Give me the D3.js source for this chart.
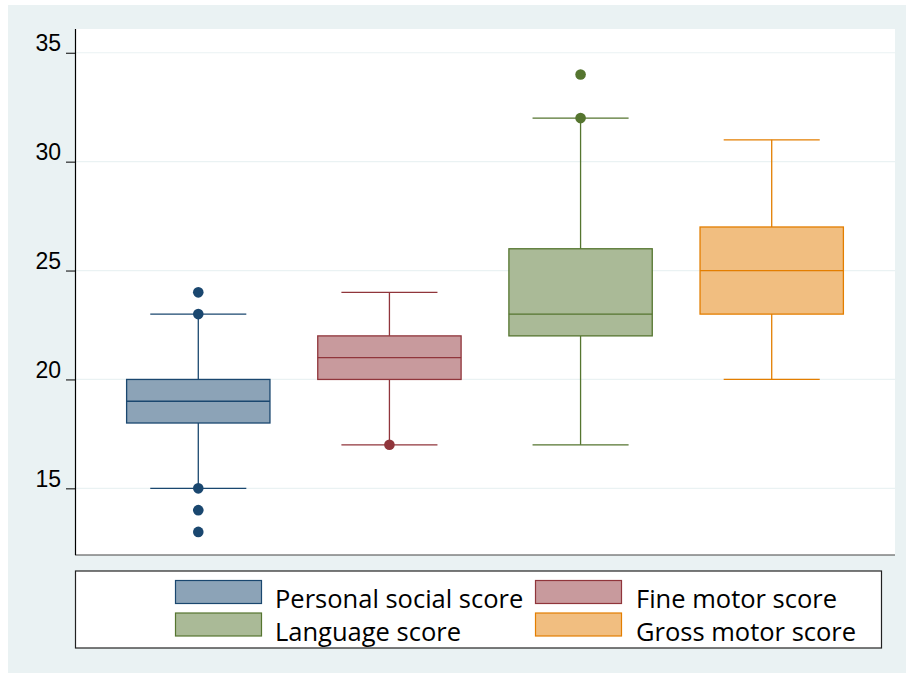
<!DOCTYPE html>
<html>
<head>
<meta charset="utf-8">
<style>
  body { margin: 0; background: #fff; }
  svg { display: block; }
  .tick text { font-family: 'Liberation Sans', Arial, sans-serif; }
  .legend text { font-family: 'Open Sans', Lato, sans-serif; }
</style>
</head>
<body>
<svg width="906" height="674"></svg>
<script src="https://d3js.org/d3.v7.min.js"></script>
<script>
  // data
  var categories = ["Personal social score", "Fine motor score", "Language score", "Gross motor score"];
  var q1 = [18, 20, 22, 23];
  var median = [19, 21, 23, 25];
  var q3 = [20, 22, 26, 27];
  var whiskerLow = [15, 17, 17, 20];
  var whiskerHigh = [23, 24, 32, 31];
  var outliers = [[24, 23, 15, 14, 13], [17], [34, 32], []];
  var yTicks = [15, 20, 25, 30, 35];

  var strokeColors = ["#1a476f", "#90353b", "#55752f", "#e37e00"];
  var fillColors = ["#8ca3b7", "#c89a9d", "#aaba97", "#f1be80"];

  var svg = d3.select("svg");

  // stata-like background
  svg.append("rect")
    .attr("x", 8).attr("y", 5)
    .attr("width", 898).attr("height", 668)
    .attr("fill", "#eaf2f3");

  var plot = {left: 75, right: 895, top: 29, bottom: 555};

  svg.append("rect")
    .attr("x", plot.left).attr("y", plot.top)
    .attr("width", plot.right - plot.left)
    .attr("height", plot.bottom - plot.top)
    .attr("fill", "#fff");

  var x = d3.scaleBand()
    .domain(categories)
    .range([plot.left, plot.right])
    .paddingInner(0.25)
    .paddingOuter(0.27);

  var y = d3.scaleLinear()
    .domain([11.94, 36.09])
    .range([plot.bottom, plot.top]);

  // gridlines
  svg.append("g")
    .selectAll("line")
    .data(yTicks)
    .enter().append("line")
    .attr("x1", plot.left).attr("x2", plot.right)
    .attr("y1", function(d) { return y(d); })
    .attr("y2", function(d) { return y(d); })
    .attr("stroke", "#eaf2f3")
    .attr("stroke-width", 1.2);

  // bottom border
  svg.append("line")
    .attr("x1", plot.left).attr("x2", plot.right)
    .attr("y1", plot.bottom).attr("y2", plot.bottom)
    .attr("stroke", "#444").attr("stroke-width", 1.2);

  // y axis
  var yAxis = svg.append("g")
    .attr("transform", "translate(" + plot.left + ",0)")
    .call(d3.axisLeft(y).tickValues(yTicks).tickSize(9).tickPadding(5));
  yAxis.select(".domain")
    .attr("d", "M0.5," + plot.top + "V" + plot.bottom)
    .attr("stroke", "#000").attr("stroke-width", 1.2);
  yAxis.selectAll(".tick line").attr("stroke", "#000");
  yAxis.selectAll(".tick text")
    .attr("font-size", 23)
    .attr("fill", "#000")
    .attr("dy", "-2px");

  var bw = x.bandwidth();
  var capW = bw * 0.67;

  var boxes = svg.append("g")
    .selectAll("g")
    .data(categories)
    .enter().append("g");

  // whisker stems
  boxes.append("line")
    .attr("x1", function(d) { return x(d) + bw / 2; })
    .attr("x2", function(d) { return x(d) + bw / 2; })
    .attr("y1", function(d, i) { return y(whiskerHigh[i]); })
    .attr("y2", function(d, i) { return y(q3[i]); })
    .attr("stroke", function(d, i) { return strokeColors[i]; })
    .attr("stroke-width", 1.3);
  boxes.append("line")
    .attr("x1", function(d) { return x(d) + bw / 2; })
    .attr("x2", function(d) { return x(d) + bw / 2; })
    .attr("y1", function(d, i) { return y(q1[i]); })
    .attr("y2", function(d, i) { return y(whiskerLow[i]); })
    .attr("stroke", function(d, i) { return strokeColors[i]; })
    .attr("stroke-width", 1.3);

  // caps
  [whiskerHigh, whiskerLow].forEach(function(arr) {
    boxes.append("line")
      .attr("x1", function(d) { return x(d) + bw / 2 - capW / 2; })
      .attr("x2", function(d) { return x(d) + bw / 2 + capW / 2; })
      .attr("y1", function(d, i) { return y(arr[i]); })
      .attr("y2", function(d, i) { return y(arr[i]); })
      .attr("stroke", function(d, i) { return strokeColors[i]; })
      .attr("stroke-width", 1.3);
  });

  // boxes
  boxes.append("rect")
    .attr("x", function(d) { return x(d); })
    .attr("y", function(d, i) { return y(q3[i]); })
    .attr("width", bw)
    .attr("height", function(d, i) { return y(q1[i]) - y(q3[i]); })
    .attr("fill", function(d, i) { return fillColors[i]; })
    .attr("stroke", function(d, i) { return strokeColors[i]; })
    .attr("stroke-width", 1.3);

  // median
  boxes.append("line")
    .attr("x1", function(d) { return x(d); })
    .attr("x2", function(d) { return x(d) + bw; })
    .attr("y1", function(d, i) { return y(median[i]); })
    .attr("y2", function(d, i) { return y(median[i]); })
    .attr("stroke", function(d, i) { return strokeColors[i]; })
    .attr("stroke-width", 1.3);

  // outside values
  boxes.each(function(d, i) {
    d3.select(this).selectAll("circle")
      .data(outliers[i])
      .enter().append("circle")
      .attr("cx", x(d) + bw / 2)
      .attr("cy", function(v) { return y(v); })
      .attr("r", 5.3)
      .attr("fill", strokeColors[i]);
  });

  // legend
  var legend = svg.append("g").attr("class", "legend");
  legend.append("rect")
    .attr("x", 75.5).attr("y", 571)
    .attr("width", 806).attr("height", 77)
    .attr("fill", "#fff")
    .attr("stroke", "#222")
    .attr("stroke-width", 1.2);

  var colX = [175.5, 535.5], textX = [275, 636], rowY = [580.5, 613];
  var items = legend.selectAll("g.item")
    .data(categories)
    .enter().append("g")
    .attr("class", "item")
    .attr("transform", function(d, i) {
      return "translate(" + colX[i % 2] + "," + rowY[Math.floor(i / 2)] + ")";
    });

  items.append("rect")
    .attr("width", 86).attr("height", 23)
    .attr("fill", function(d, i) { return fillColors[i]; })
    .attr("stroke", function(d, i) { return strokeColors[i]; })
    .attr("stroke-width", 1.2);

  items.append("text")
    .attr("x", function(d, i) { return textX[i % 2] - colX[i % 2]; })
    .attr("y", 27.5)
    .attr("font-size", 25.5)
    .attr("fill", "#000")
    .text(function(d) { return d; });
</script>
</body>
</html>
